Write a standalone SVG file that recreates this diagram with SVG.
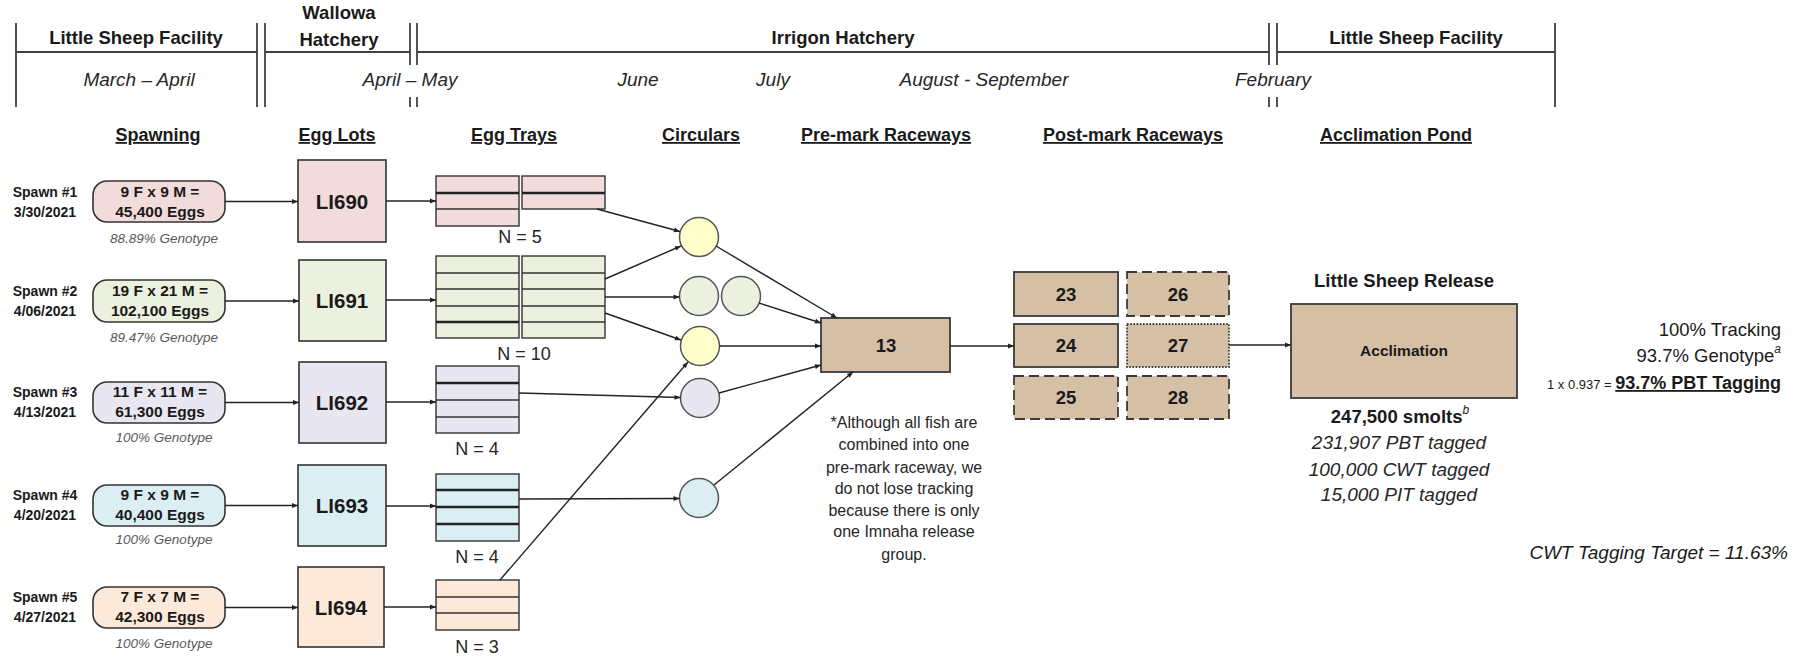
<svg xmlns="http://www.w3.org/2000/svg" width="1809" height="657" viewBox="0 0 1809 657">
<style>
text{font-family:"Liberation Sans",Arial,sans-serif;fill:#1a1a1a}
.hd{font-size:18.5px;font-weight:bold;text-anchor:middle}
.mo{font-size:19px;font-style:italic;text-anchor:middle;fill:#262626}
.col{font-size:18px;font-weight:bold;text-anchor:middle;text-decoration:underline}
.sl{font-size:14px;font-weight:bold;text-anchor:middle}
.bt{font-size:15.5px;font-weight:bold;text-anchor:middle}
.gt{font-size:13.5px;font-style:italic;text-anchor:middle;fill:#595959}
.lot{font-size:20.5px;font-weight:bold;text-anchor:middle}
.nn{font-size:18px;text-anchor:middle;fill:#262626}
.rw{font-size:18.5px;font-weight:bold;text-anchor:middle}
.fn{font-size:16px;text-anchor:middle;fill:#262626}
.it{font-size:19px;font-style:italic;text-anchor:middle;fill:#262626}
.tl{stroke:#404040;stroke-width:1.8;fill:none}
.box{stroke:#333;stroke-width:1.6}
.tray{stroke:#333;stroke-width:1.4}
.tk{stroke:#222;stroke-width:2.6}
.tn{stroke:#333;stroke-width:1.3}
.circ{stroke:#555;stroke-width:1.5}
.tan{fill:#d5c0a6;stroke:#3a3a3a;stroke-width:1.8}
.con{stroke:#222;stroke-width:1.4;fill:none;marker-end:url(#ah)}
.pink{fill:#f2dcdb}.green{fill:#ebf1de}.lav{fill:#e8e6f0}.blue{fill:#daeef3}.peach{fill:#fde9d9}.yel{fill:#ffffcc}
</style>
<defs>
<marker id="ah" viewBox="0 0 10 10" refX="10" refY="5" markerWidth="7" markerHeight="6" markerUnits="userSpaceOnUse" orient="auto"><path d="M0,1 L10,5 L0,9 z" fill="#222"/></marker>
</defs>
<rect width="1809" height="657" fill="#ffffff"/>

<g id="timeline">
<path class="tl" d="M16,23V107 M257,23V107 M265,23V107 M410,23V65 M417,23V65 M410,97V107 M417,97V107 M1269,23V65 M1277,23V65 M1269,97V107 M1277,97V107 M1555,23V107 M16,52H257 M265,52H410 M417,52H1269 M1277,52H1555"/>
<text class="hd" x="136" y="44">Little Sheep Facility</text>
<text class="hd" x="339" y="19">Wallowa</text>
<text class="hd" x="339" y="46">Hatchery</text>
<text class="hd" x="843" y="44">Irrigon Hatchery</text>
<text class="hd" x="1416" y="44">Little Sheep Facility</text>
<text class="mo" x="139" y="86">March – April</text>
<text class="mo" x="410" y="86">April – May</text>
<text class="mo" x="638" y="86">June</text>
<text class="mo" x="773" y="86">July</text>
<text class="mo" x="984" y="86">August - September</text>
<text class="mo" x="1273" y="86">February</text>
</g>

<g id="column-headers">
<text class="col" x="158" y="141">Spawning</text>
<text class="col" x="337" y="141">Egg Lots</text>
<text class="col" x="514" y="141">Egg Trays</text>
<text class="col" x="701" y="141">Circulars</text>
<text class="col" x="886" y="141">Pre-mark Raceways</text>
<text class="col" x="1133" y="141">Post-mark Raceways</text>
<text class="col" x="1396" y="141">Acclimation Pond</text>
</g>

<g id="spawn1">
<text class="sl" x="45" y="197">Spawn #1</text><text class="sl" x="45" y="217">3/30/2021</text>
<rect class="box pink" x="93" y="181" width="132" height="41" rx="14"/>
<text class="bt" x="160" y="197">9 F x 9 M =</text><text class="bt" x="160" y="217">45,400 Eggs</text>
<text class="gt" x="164" y="243">88.89% Genotype</text>
</g>
<g id="spawn2">
<text class="sl" x="45" y="296">Spawn #2</text><text class="sl" x="45" y="316">4/06/2021</text>
<rect class="box green" x="93" y="280" width="132" height="42" rx="14"/>
<text class="bt" x="160" y="296">19 F x 21 M =</text><text class="bt" x="160" y="316">102,100 Eggs</text>
<text class="gt" x="164" y="342">89.47% Genotype</text>
</g>
<g id="spawn3">
<text class="sl" x="45" y="397">Spawn #3</text><text class="sl" x="45" y="417">4/13/2021</text>
<rect class="box lav" x="93" y="382" width="132" height="41" rx="14"/>
<text class="bt" x="160" y="397">11 F x 11 M =</text><text class="bt" x="160" y="417">61,300 Eggs</text>
<text class="gt" x="164" y="442">100% Genotype</text>
</g>
<g id="spawn4">
<text class="sl" x="45" y="500">Spawn #4</text><text class="sl" x="45" y="520">4/20/2021</text>
<rect class="box blue" x="93" y="485" width="132" height="41" rx="14"/>
<text class="bt" x="160" y="500">9 F x 9 M =</text><text class="bt" x="160" y="520">40,400 Eggs</text>
<text class="gt" x="164" y="544">100% Genotype</text>
</g>
<g id="spawn5">
<text class="sl" x="45" y="602">Spawn #5</text><text class="sl" x="45" y="622">4/27/2021</text>
<rect class="box peach" x="93" y="587" width="132" height="41" rx="14"/>
<text class="bt" x="160" y="602">7 F x 7 M =</text><text class="bt" x="160" y="622">42,300 Eggs</text>
<text class="gt" x="164" y="648">100% Genotype</text>
</g>

<g id="LI690"><rect class="box pink" x="298" y="160" width="88" height="82"/><text class="lot" x="342" y="209">LI690</text></g>
<g id="LI691"><rect class="box green" x="299" y="260" width="87" height="81"/><text class="lot" x="342" y="308">LI691</text></g>
<g id="LI692"><rect class="box lav" x="299" y="362" width="87" height="81"/><text class="lot" x="342" y="410">LI692</text></g>
<g id="LI693"><rect class="box blue" x="298" y="465" width="88" height="81"/><text class="lot" x="342" y="513">LI693</text></g>
<g id="LI694"><rect class="box peach" x="298" y="567" width="86" height="80"/><text class="lot" x="341" y="615">LI694</text></g>

<g id="trays690">
<rect class="tray pink" x="436" y="176" width="83" height="50"/>
<rect class="tray pink" x="522" y="176" width="83" height="33"/>
<path class="tk" d="M436,193H519 M522,193H605"/>
<path class="tn" d="M436,209H519"/>
<text class="nn" x="520" y="243">N = 5</text>
</g>
<g id="trays691">
<rect class="tray green" x="436" y="256" width="83" height="82"/>
<rect class="tray green" x="522" y="256" width="83" height="82"/>
<path class="tn" d="M436,273H519 M436,289H519 M436,306H519 M522,273H605 M522,289H605 M522,306H605 M522,322H605"/>
<path class="tk" d="M436,322H519"/>
<text class="nn" x="524" y="360">N = 10</text>
</g>
<g id="trays692">
<rect class="tray lav" x="436" y="366" width="83" height="67"/>
<path class="tk" d="M436,383H519"/>
<path class="tn" d="M436,400H519 M436,417H519"/>
<text class="nn" x="477" y="455">N = 4</text>
</g>
<g id="trays693">
<rect class="tray blue" x="436" y="474" width="83" height="67"/>
<path class="tk" d="M436,490H519 M436,507H519 M436,524H519"/>
<text class="nn" x="477" y="563">N = 4</text>
</g>
<g id="trays694">
<rect class="tray peach" x="436" y="580" width="83" height="50"/>
<path class="tn" d="M436,597H519 M436,613H519"/>
<text class="nn" x="477" y="653">N = 3</text>
</g>

<g id="circ-y1"><circle class="circ yel" cx="699" cy="237" r="19.5"/></g>
<g id="circ-g1"><circle class="circ green" cx="699" cy="296" r="19.5"/></g>
<g id="circ-g2"><circle class="circ green" cx="741" cy="296" r="19.5"/></g>
<g id="circ-y2"><circle class="circ yel" cx="700" cy="346" r="19.5"/></g>
<g id="circ-l"><circle class="circ lav" cx="700" cy="398" r="19.5"/></g>
<g id="circ-b"><circle class="circ blue" cx="699" cy="498" r="19.5"/></g>

<g id="raceway13"><rect class="tan" x="821" y="318" width="129" height="54"/><text class="rw" x="886" y="352">13</text></g>

<g id="rw23"><rect class="tan" x="1014" y="272" width="104" height="44"/><text class="rw" x="1066" y="301">23</text></g>
<g id="rw24"><rect class="tan" x="1014" y="324" width="104" height="43"/><text class="rw" x="1066" y="352">24</text></g>
<g id="rw25"><rect class="tan" x="1014" y="376" width="104" height="43" stroke-dasharray="10,5"/><text class="rw" x="1066" y="404">25</text></g>
<g id="rw26"><rect class="tan" x="1127" y="272" width="102" height="44" stroke-dasharray="10,5"/><text class="rw" x="1178" y="301">26</text></g>
<g id="rw27"><rect class="tan" x="1127" y="324" width="102" height="43" stroke-dasharray="1.6,1.6" stroke-width="1.5"/><text class="rw" x="1178" y="352">27</text></g>
<g id="rw28"><rect class="tan" x="1127" y="376" width="102" height="43" stroke-dasharray="10,5"/><text class="rw" x="1178" y="404">28</text></g>

<g id="acclimation">
<text class="rw" x="1404" y="287">Little Sheep Release</text>
<rect class="tan" x="1291" y="304" width="226" height="94"/>
<text class="bt" x="1404" y="356" font-size="14">Acclimation</text>
<text class="rw" x="1400" y="423">247,500 smolts<tspan font-size="12" font-style="italic" font-weight="normal" dy="-9">b</tspan></text>
<text class="it" x="1399" y="449">231,907 PBT tagged</text>
<text class="it" x="1399" y="476">100,000 CWT tagged</text>
<text class="it" x="1399" y="501">15,000 PIT tagged</text>
</g>

<g id="summary">
<text x="1781" y="336" font-size="18.5" text-anchor="end" fill="#262626">100% Tracking</text>
<text x="1781" y="362" font-size="18.5" text-anchor="end" fill="#262626">93.7% Genotype<tspan font-size="12" font-style="italic" dy="-9">a</tspan></text>
<text x="1781" y="389" text-anchor="end" fill="#262626"><tspan font-size="13">1 x 0.937 = </tspan><tspan font-size="18" font-weight="bold" text-decoration="underline" fill="#1a1a1a">93.7% PBT Tagging</tspan></text>
<text x="1788" y="559" font-size="19" font-style="italic" text-anchor="end" fill="#262626">CWT Tagging Target = 11.63%</text>
</g>

<g id="footnote">
<text class="fn" x="904" y="428">*Although all fish are</text>
<text class="fn" x="904" y="450">combined into one</text>
<text class="fn" x="904" y="473">pre-mark raceway, we</text>
<text class="fn" x="904" y="494">do not lose tracking</text>
<text class="fn" x="904" y="516">because there is only</text>
<text class="fn" x="904" y="537">one Imnaha release</text>
<text class="fn" x="904" y="560">group.</text>
</g>

<g id="connectors">
<path class="con" d="M225,201.5H298"/>
<path class="con" d="M225,301H299"/>
<path class="con" d="M225,402.5H299"/>
<path class="con" d="M225,505.5H298"/>
<path class="con" d="M225,607.5H298"/>
<path class="con" d="M386,201H436"/>
<path class="con" d="M386,300H436"/>
<path class="con" d="M386,402H436"/>
<path class="con" d="M386,506H436"/>
<path class="con" d="M384,607H436"/>
<path class="con" d="M597,209L680,231.5"/>
<path class="con" d="M605,279L681,246"/>
<path class="con" d="M605,297H679.5"/>
<path class="con" d="M605,313L681,340"/>
<path class="con" d="M519,393L680.5,397.5"/>
<path class="con" d="M519,499L679.5,498.5"/>
<path class="con" d="M500,580L688,362"/>
<path class="con" d="M716,246L837,318"/>
<path class="con" d="M759,303L821,323"/>
<path class="con" d="M719.5,346H821"/>
<path class="con" d="M719,393L821,365"/>
<path class="con" d="M714,485L853,372"/>
<path class="con" d="M950,346H1014"/>
<path class="con" d="M1229,345H1291"/>
</g>
</svg>
